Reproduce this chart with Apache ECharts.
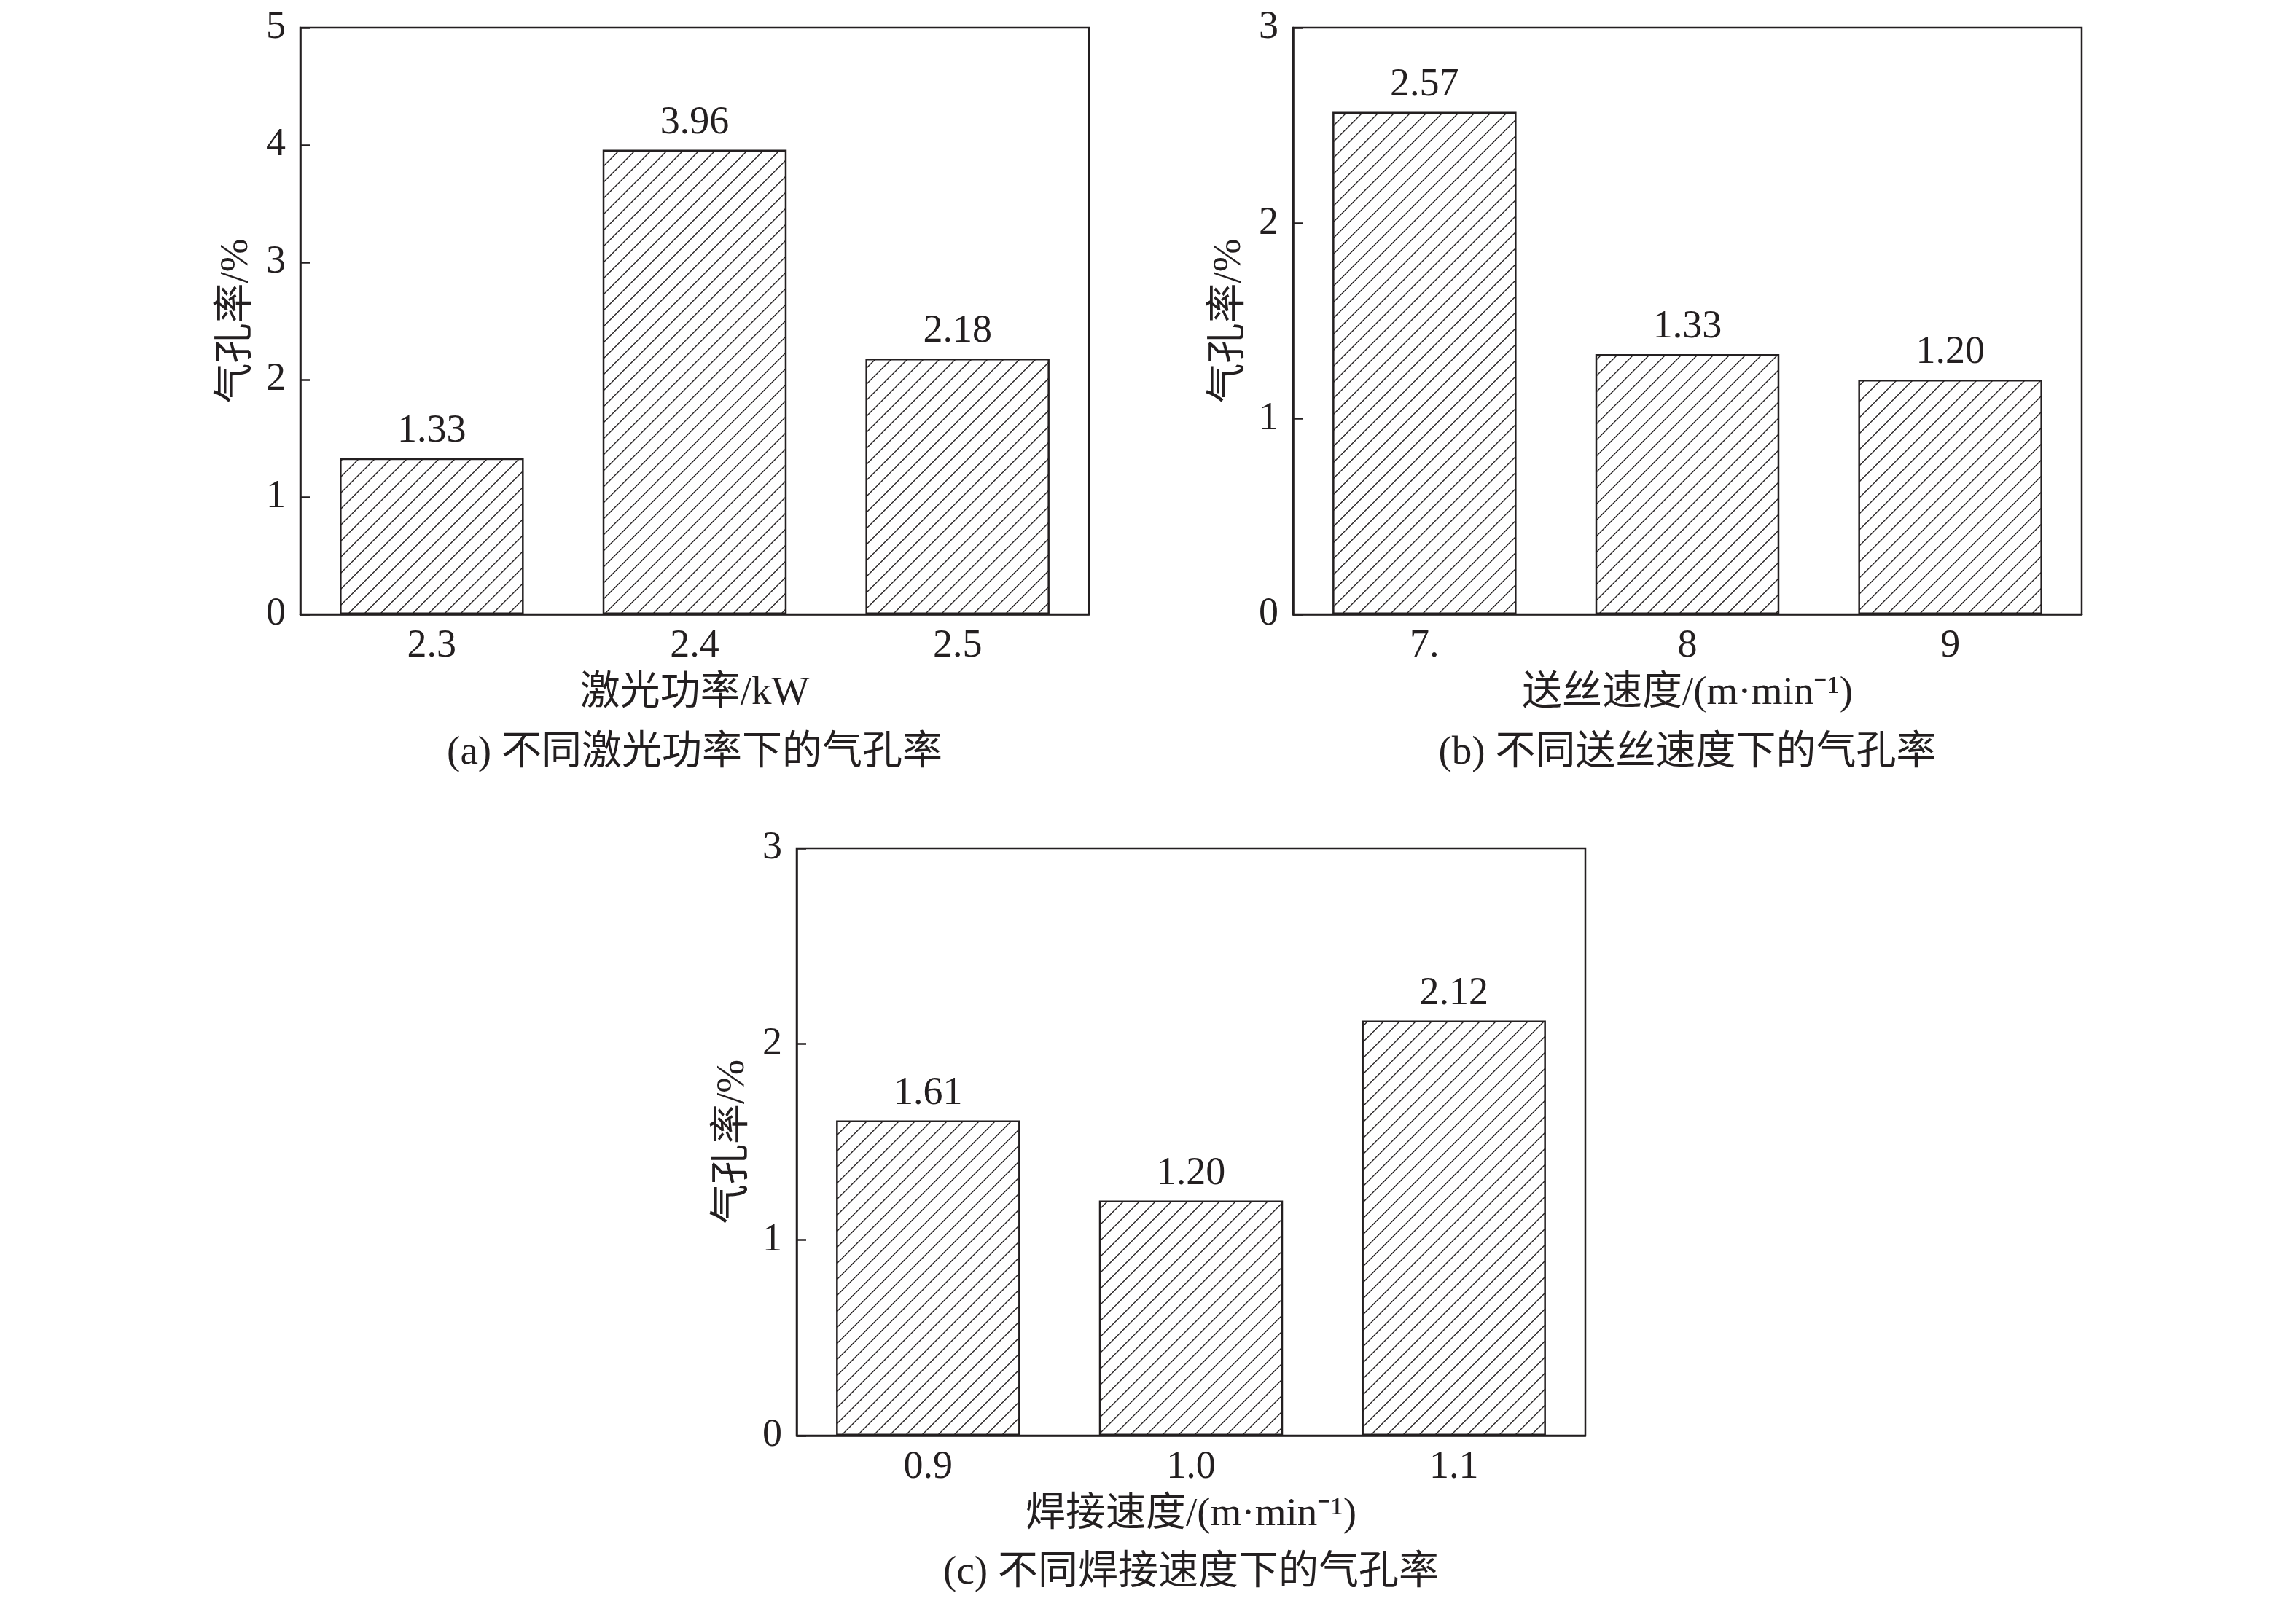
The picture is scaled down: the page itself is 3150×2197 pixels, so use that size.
<!DOCTYPE html>
<html>
<head>
<meta charset="utf-8">
<script src="https://cdn.jsdelivr.net/npm/echarts@6/dist/echarts.min.js"></script>
<style>
html,body{margin:0;padding:0;background:#fff;}
#main{width:3150px;height:2197px;}
</style>
</head>
<body>
<div id="main"></div>
<script>
// ---- data ----
var catA = ['2.3', '2.4', '2.5'];
var valA = [1.33, 3.96, 2.18];
var catB = ['7.', '8', '9'];
var valB = [2.57, 1.33, 1.20];
var catC = ['0.9', '1.0', '1.1'];
var valC = [1.61, 1.20, 2.12];
var yMaxA = 5, yMaxB = 3, yMaxC = 3;
var yNameAll = '气孔率/%';
var xNameA = '激光功率/kW';
var xNameB = '送丝速度/(m·min⁻¹)';
var xNameC = '焊接速度/(m·min⁻¹)';
var captionA = '(a) 不同激光功率下的气孔率';
var captionB = '(b) 不同送丝速度下的气孔率';
var captionC = '(c) 不同焊接速度下的气孔率';

// ---- styles ----
var FONT = '"Liberation Serif", "Times New Roman", "Noto Sans CJK SC", serif';
var FS = 54;
var FSN = 55;
var INK = '#231f20';

function hatch() {
  var s = 22;
  var c = document.createElement('canvas');
  c.width = s; c.height = s;
  var g = c.getContext('2d');
  g.fillStyle = '#fff';
  g.fillRect(0, 0, s, s);
  g.strokeStyle = INK;
  g.lineWidth = 1.4;
  g.beginPath();
  g.moveTo(-2, s + 2); g.lineTo(s + 2, -2);
  g.moveTo(-2, 2); g.lineTo(2, -2);
  g.moveTo(s - 2, s + 2); g.lineTo(s + 2, s - 2);
  g.stroke();
  return c;
}
var pattern = { image: hatch(), repeat: 'repeat' };

var grids = [
  { left: 412, top: 38, width: 1082, height: 805 },
  { left: 1774, top: 38, width: 1082, height: 805 },
  { left: 1093, top: 1164, width: 1082, height: 806 }
];
grids.forEach(function (g) { g.show = true; g.borderColor = INK; g.borderWidth = 2.5; g.backgroundColor = 'transparent'; });

function xAxis(idx, cats, name) {
  return {
    type: 'category', gridIndex: idx, data: cats,
    name: name, nameLocation: 'middle', nameGap: 81,
    nameTextStyle: { fontFamily: FONT, fontSize: FSN, color: INK },
    axisLine: { lineStyle: { color: INK, width: 2.5 } },
    axisTick: { show: true, inside: true, alignWithLabel: true, length: 13, lineStyle: { color: INK, width: 2.5 } },
    axisLabel: { fontFamily: FONT, fontSize: FS, color: INK, margin: 17 },
    splitLine: { show: false }
  };
}
function yAxis(idx, max) {
  return {
    type: 'value', gridIndex: idx, min: 0, max: max, interval: 1,
    name: yNameAll, nameLocation: 'middle', nameGap: 60, nameRotate: 90,
    nameTextStyle: { fontFamily: FONT, fontSize: FSN, color: INK },
    axisLine: { show: true, lineStyle: { color: INK, width: 2.5 } },
    axisTick: { show: true, inside: true, length: 13, lineStyle: { color: INK, width: 2.5 } },
    axisLabel: { fontFamily: FONT, fontSize: FS, color: INK, margin: 20 },
    splitLine: { show: false }
  };
}
function series(idx, vals) {
  return {
    type: 'bar', xAxisIndex: idx, yAxisIndex: idx, data: vals,
    barCategoryGap: '30%',
    itemStyle: { color: pattern, borderColor: INK, borderWidth: 2.5 },
    label: {
      show: true, position: 'top', distance: 10,
      fontFamily: FONT, fontSize: FS, color: INK,
      formatter: function (p) { return p.value.toFixed(2); }
    },
    emphasis: { disabled: true },
    animation: false
  };
}
function caption(text, x, y) {
  return {
    type: 'text', x: x, y: y,
    style: { text: text, fontFamily: FONT, fontSize: FSN, fill: INK, textAlign: 'center', textVerticalAlign: 'middle' }
  };
}

var chart = echarts.init(document.getElementById('main'));
chart.setOption({
  backgroundColor: '#fff',
  animation: false,
  grid: grids,
  xAxis: [xAxis(0, catA, xNameA), xAxis(1, catB, xNameB), xAxis(2, catC, xNameC)],
  yAxis: [yAxis(0, yMaxA), yAxis(1, yMaxB), yAxis(2, yMaxC)],
  series: [series(0, valA), series(1, valB), series(2, valC)],
  graphic: [
    caption(captionA, 953, 1034),
    caption(captionB, 2315, 1034),
    caption(captionC, 1634, 2159)
  ]
});
</script>
</body>
</html>
